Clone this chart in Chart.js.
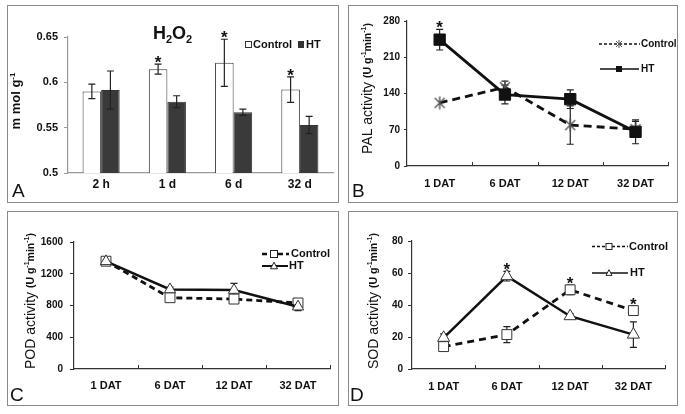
<!DOCTYPE html>
<html>
<head>
<meta charset="utf-8">
<title>H2O2, PAL, POD and SOD</title>
<script src="https://cdn.jsdelivr.net/npm/chart.js@4.4.1/dist/chart.umd.min.js"></script>
<style>
  body { margin: 0; background: #fff; }
  #wrap { position: relative; width: 685px; height: 414px; overflow: hidden; background: #fff; }
  canvas, .frame { position: absolute; }
  .frame { border: 1.5px solid #8a8a8a; box-sizing: border-box; pointer-events: none; }
</style>
</head>
<body>
<div id="wrap">
  <canvas id="h2o2Chart" width="332" height="198" style="left:7px;top:5px"></canvas>
  <canvas id="palChart" width="330" height="198" style="left:348px;top:5px"></canvas>
  <canvas id="podChart" width="332" height="195" style="left:7px;top:211px"></canvas>
  <canvas id="sodChart" width="330" height="195" style="left:348px;top:211px"></canvas>
  <div class="frame" style="left:7px;top:5px;width:332px;height:198px"></div>
  <div class="frame" style="left:348px;top:5px;width:330px;height:198px"></div>
  <div class="frame" style="left:7px;top:211px;width:332px;height:195px"></div>
  <div class="frame" style="left:348px;top:211px;width:330px;height:195px"></div>
</div>
<script>
const FONT = "'Liberation Sans', Arial, sans-serif";
Chart.defaults.font.family = FONT;
Chart.defaults.color = '#111';
Chart.defaults.animation = false;

// H2O2 - BAR (A)
const h2o2Labels = ['2 h', '1 d', '6 d', '32 d'];
const h2o2Control = [0.590, 0.6145, 0.6215, 0.592];
const h2o2ControlErr = [0.008, 0.0055, 0.026, 0.014];
const h2o2HT = [0.5915, 0.5787, 0.567, 0.553];
const h2o2HTErr = [0.021, 0.0065, 0.0035, 0.0095];
const h2o2Stars = [false, true, true, true];
const h2o2Ticks = [0.5, 0.55, 0.6, 0.65];

// days after treatment (B, C, D)
const datLabels = ['1 DAT', '6 DAT', '12 DAT', '32 DAT'];

// PAL - LINE (B)
const palControl = [122, 152, 79, 71];
const palControlErr = [0, 12, 37, 15];
const palHT = [244, 138, 129, 66];
const palHTErr = [20, 18, 18, 23];
const palHTStars = [true, false, false, false];
const palTicks = [0, 70, 140, 210, 280];

// POD - LINE (C)
const podControl = [1358, 898, 881, 832];
const podControlErr = [25, 30, 30, 35];
const podHT = [1356, 1002, 994, 785];
const podHTErr = [20, 30, 84, 50];
const podTicks = [0, 400, 800, 1200, 1600];

// SOD - LINE (D)
const sodControl = [14, 21.5, 49.5, 36.5];
const sodControlErr = [2, 5, 3, 3];
const sodControlStars = [false, false, true, true];
const sodHT = [19.5, 58, 33, 21.5];
const sodHTErr = [2.5, 3, 1.5, 8];
const sodHTStars = [false, true, false, false];
const sodTicks = [0, 20, 40, 60, 80];


// error bars and significance stars, drawn on the chart's own y scale
const errorBars = {
    id: 'errorBars',
    beforeDatasetsDraw(chart) {
        if (chart.config.type !== 'bar') drawErrors(chart);
    },
    afterDatasetsDraw(chart) {
        if (chart.config.type === 'bar') drawErrors(chart);
        drawStars(chart);
    }
};

function drawErrors(chart) {
    const ctx = chart.ctx, y = chart.scales.y;
    chart.data.datasets.forEach((ds, i) => {
        if (!ds.err) return;
        chart.getDatasetMeta(i).data.forEach((pt, j) => {
            const e = ds.err[j];
            if (!e) return;
            const top = y.getPixelForValue(ds.data[j] + e);
            const bot = y.getPixelForValue(ds.data[j] - e);
            ctx.save();
            ctx.strokeStyle = '#222';
            ctx.lineWidth = 1.2;
            ctx.beginPath();
            ctx.moveTo(pt.x, top); ctx.lineTo(pt.x, bot);
            ctx.moveTo(pt.x - 3.5, top); ctx.lineTo(pt.x + 3.5, top);
            ctx.moveTo(pt.x - 3.5, bot); ctx.lineTo(pt.x + 3.5, bot);
            ctx.stroke();
            ctx.restore();
        });
    });
}

function drawStars(chart) {
    const ctx = chart.ctx, y = chart.scales.y;
    chart.data.datasets.forEach((ds, i) => {
        if (!ds.stars) return;
        chart.getDatasetMeta(i).data.forEach((pt, j) => {
            if (!ds.stars[j]) return;
            const top = y.getPixelForValue(ds.data[j] + (ds.err ? ds.err[j] : 0));
            ctx.save();
            ctx.fillStyle = '#111';
            ctx.font = 'bold 17px ' + FONT;
            ctx.textAlign = 'center';
            ctx.textBaseline = 'alphabetic';
            ctx.fillText('*', pt.x, top + 4);
            ctx.restore();
        });
    });
}

// text made of pieces (sub/superscripts), font like 'bold 12px', dy shifts the piece
function partsWidth(ctx, parts) {
    let w = 0;
    parts.forEach(p => { ctx.font = p[1] + ' ' + FONT; w += ctx.measureText(p[0]).width; });
    return w;
}
function drawParts(ctx, parts, x, y) {
    ctx.textAlign = 'left';
    parts.forEach(p => {
        ctx.font = p[1] + ' ' + FONT;
        ctx.fillText(p[0], x, y + (p[2] || 0));
        x += ctx.measureText(p[0]).width;
    });
}
function yTitle(ctx, parts, cx, cy) {
    ctx.save();
    ctx.translate(cx, cy);
    ctx.rotate(-Math.PI / 2);
    ctx.fillStyle = '#111';
    ctx.textBaseline = 'middle';
    drawParts(ctx, parts, -partsWidth(ctx, parts) / 2, 0);
    ctx.restore();
}
function unitsTitle(name, big, small) {
    return [[name + ' ', big + 'px'], ['(U g', 'bold ' + small + 'px'], ['-1', 'bold 7px', -4],
            ['min', 'bold ' + small + 'px'], ['-1', 'bold 7px', -4], [')', 'bold ' + small + 'px']];
}

function marker(ctx, kind, x, y, s) {
    ctx.save();
    ctx.lineWidth = 1;
    ctx.strokeStyle = '#222';
    ctx.fillStyle = '#fff';
    if (kind === 'fillRect') {
        ctx.fillStyle = '#111';
        ctx.fillRect(x - s / 2, y - s / 2, s, s);
    } else if (kind === 'openRect') {
        ctx.fillRect(x - s / 2, y - s / 2, s, s);
        ctx.strokeRect(x - s / 2, y - s / 2, s, s);
    } else if (kind === 'openTri') {
        ctx.beginPath();
        ctx.moveTo(x, y - s * 0.55);
        ctx.lineTo(x + s / 2, y + s * 0.4);
        ctx.lineTo(x - s / 2, y + s * 0.4);
        ctx.closePath();
        ctx.fill(); ctx.stroke();
    } else if (kind === 'asterisk') {
        ctx.strokeStyle = '#555';
        ctx.beginPath();
        ctx.moveTo(x - s / 2, y - s / 2); ctx.lineTo(x + s / 2, y + s / 2);
        ctx.moveTo(x + s / 2, y - s / 2); ctx.lineTo(x - s / 2, y + s / 2);
        ctx.moveTo(x, y - s / 2 - 1); ctx.lineTo(x, y + s / 2 + 1);
        ctx.stroke();
    }
    ctx.restore();
}

function legendRow(ctx, o) {
    ctx.save();
    ctx.strokeStyle = '#111';
    ctx.lineWidth = o.lw;
    ctx.setLineDash(o.dash || []);
    ctx.beginPath(); ctx.moveTo(o.x0, o.y); ctx.lineTo(o.x1, o.y); ctx.stroke();
    ctx.setLineDash([]);
    marker(ctx, o.marker, o.mx, o.y, o.ms);
    ctx.fillStyle = '#111';
    ctx.font = o.font + ' ' + FONT;
    ctx.textBaseline = 'middle';
    ctx.textAlign = 'left';
    ctx.fillText(o.text, o.tx, o.y);
    ctx.restore();
}

function letter(ctx, t, x, y) {
    ctx.fillStyle = '#111';
    ctx.font = '19px ' + FONT;
    ctx.textAlign = 'left';
    ctx.textBaseline = 'alphabetic';
    ctx.fillText(t, x, y);
}

// per panel drawing; fn works in page coordinates (ox, oy = canvas position)
function decor(ox, oy, fn, insideTicks) {
    return {
        id: 'decor',
        afterDraw(chart) {
            const ctx = chart.ctx;
            if (insideTicks) {
                const x = chart.scales.x, b = chart.chartArea.bottom;
                ctx.save();
                ctx.strokeStyle = '#333';
                ctx.lineWidth = 1;
                for (let k = 1; k <= chart.data.labels.length; k++) {
                    const px = Math.round(x.getPixelForValue(k - 0.5)) + 0.5;
                    ctx.beginPath(); ctx.moveTo(px, b); ctx.lineTo(px, b - insideTicks); ctx.stroke();
                }
                ctx.restore();
            }
            ctx.save();
            ctx.translate(-ox, -oy);
            fn(ctx);
            ctx.restore();
        }
    };
}

function yAxis(ticks, width, tickLen, pad, size, color, fmt) {
    return {
        min: ticks[0],
        max: ticks[ticks.length - 1],
        ticks: { stepSize: ticks[1] - ticks[0], padding: pad, color: '#111',
                 font: { size: size, weight: 'bold' }, callback: fmt || (v => v) },
        grid: { drawOnChartArea: false, tickLength: tickLen, color: color },
        border: { color: color, width: 1.2 },
        afterFit: s => { s.width = width; }
    };
}
function xAxis(height, pad, size, color, offset) {
    return {
        offset: offset,
        grid: { display: false, offset: offset },
        border: { color: color, width: 1.2 },
        ticks: { padding: pad, color: '#111', font: { size: size, weight: 'bold' }, maxRotation: 0, autoSkip: false },
        afterFit: s => { s.height = height; }
    };
}

// A - H2O2 BAR
new Chart(document.getElementById('h2o2Chart'), {
    type: 'bar',
    data: {
        labels: h2o2Labels,
        datasets: [
            { label: 'Control', data: h2o2Control, err: h2o2ControlErr, stars: h2o2Stars,
              backgroundColor: '#fff', borderColor: '#333', borderWidth: 1,
              categoryPercentage: 0.56, barPercentage: 1 },
            { label: 'HT', data: h2o2HT, err: h2o2HTErr,
              backgroundColor: '#3a3a3a', borderColor: '#333', borderWidth: 1,
              categoryPercentage: 0.56, barPercentage: 1 }
        ]
    },
    options: {
        responsive: false,
        layout: { padding: { left: 0, top: 32, right: 6, bottom: 0 } },
        plugins: { legend: { display: false }, tooltip: { enabled: false } },
        scales: {
            x: xAxis(30, -4, 12, '#999', true),
            y: yAxis(h2o2Ticks, 61, 4, 6, 11, '#999', v => String(+v.toFixed(2)))
        }
    },
    plugins: [errorBars, decor(7, 5, ctx => {
        ctx.fillStyle = '#111';
        ctx.textBaseline = 'alphabetic';
        drawParts(ctx, [['H', 'bold 18px'], ['2', 'bold 11px', 4], ['O', 'bold 18px'], ['2', 'bold 11px', 4]], 153, 39);
        ctx.lineWidth = 1;
        ctx.strokeStyle = '#333';
        ctx.fillStyle = '#fff';
        ctx.fillRect(245.5, 41.5, 6, 6);
        ctx.strokeRect(245.5, 41.5, 6, 6);
        ctx.fillStyle = '#333';
        ctx.fillRect(298, 41, 6, 7);
        ctx.fillStyle = '#111';
        ctx.font = 'bold 11px ' + FONT;
        ctx.textBaseline = 'middle';
        ctx.fillText('Control', 253, 45);
        ctx.fillText('HT', 306, 45);
        yTitle(ctx, [['m mol g', 'bold 13px'], ['-1', 'bold 8px', -4]], 16.5, 101);
        letter(ctx, 'A', 12, 197);
    })]
});

// small asterisk-like marker for PAL control
const palMark = document.createElement('canvas');
palMark.width = 14; palMark.height = 14;
(function () {
    const c = palMark.getContext('2d');
    c.strokeStyle = '#555';
    c.lineWidth = 1.4;
    c.beginPath();
    c.moveTo(2, 2); c.lineTo(12, 12);
    c.moveTo(12, 2); c.lineTo(2, 12);
    c.moveTo(7, 0.5); c.lineTo(7, 13.5);
    c.stroke();
})();

// B - PAL LINE
new Chart(document.getElementById('palChart'), {
    type: 'line',
    data: {
        labels: datLabels,
        datasets: [
            { label: 'HT', data: palHT, err: palHTErr, stars: palHTStars,
              borderColor: '#111', borderWidth: 2.8, tension: 0, fill: false,
              pointStyle: 'rect', pointRadius: 8, pointBackgroundColor: '#111',
              pointBorderColor: '#111', pointBorderWidth: 1 },
            { label: 'Control', data: palControl, err: palControlErr,
              borderColor: '#111', borderWidth: 2.8, borderDash: [8, 5], tension: 0, fill: false,
              pointStyle: palMark, pointRadius: 7 }
        ]
    },
    options: {
        responsive: false,
        layout: { padding: { left: 0, top: 16, right: 8, bottom: 0 } },
        plugins: { legend: { display: false }, tooltip: { enabled: false } },
        scales: {
            x: xAxis(37, 3, 11, '#333', true),
            y: yAxis(palTicks, 59, 3, 4, 10, '#333')
        }
    },
    plugins: [errorBars, decor(348, 5, ctx => {
        legendRow(ctx, { y: 44, x0: 599, x1: 640, lw: 1.3, dash: [3, 2], marker: 'asterisk',
                         mx: 619, ms: 6, text: 'Control', tx: 641, font: 'bold 10px' });
        legendRow(ctx, { y: 69, x0: 600, x1: 639, lw: 1.5, marker: 'fillRect',
                         mx: 619, ms: 6, text: 'HT', tx: 641, font: 'bold 10px' });
        yTitle(ctx, unitsTitle('PAL activity', 14, 10.5), 368, 88.5);
        letter(ctx, 'B', 352, 197);
    }, 4)]
});

// C - POD LINE
new Chart(document.getElementById('podChart'), {
    type: 'line',
    data: {
        labels: datLabels,
        datasets: [
            { label: 'HT', data: podHT, err: podHTErr,
              borderColor: '#111', borderWidth: 2.5, tension: 0, fill: false,
              pointStyle: 'triangle', pointRadius: 6.5, pointBackgroundColor: '#fff',
              pointBorderColor: '#333', pointBorderWidth: 1 },
            { label: 'Control', data: podControl, err: podControlErr,
              borderColor: '#111', borderWidth: 2.8, borderDash: [6, 4], tension: 0, fill: false,
              pointStyle: 'rect', pointRadius: 7, pointBackgroundColor: '#fff',
              pointBorderColor: '#333', pointBorderWidth: 1 }
        ]
    },
    options: {
        responsive: false,
        layout: { padding: { left: 0, top: 31, right: 9, bottom: 0 } },
        plugins: { legend: { display: false }, tooltip: { enabled: false } },
        scales: {
            x: xAxis(37, 2, 11, '#333', true),
            y: yAxis(podTicks, 67, 4, 7, 10, '#333')
        }
    },
    plugins: [errorBars, decor(7, 211, ctx => {
        legendRow(ctx, { y: 254, x0: 262, x1: 289, lw: 2.5, dash: [5, 3], marker: 'openRect',
                         mx: 274, ms: 7, text: 'Control', tx: 291, font: 'bold 11px' });
        legendRow(ctx, { y: 266, x0: 262, x1: 288, lw: 2, marker: 'openTri',
                         mx: 274, ms: 7, text: 'HT', tx: 289, font: 'bold 11px' });
        yTitle(ctx, unitsTitle('POD activity', 14, 10.5), 31, 301);
        letter(ctx, 'C', 10, 401);
    }, 4)]
});

// D - SOD LINE
new Chart(document.getElementById('sodChart'), {
    type: 'line',
    data: {
        labels: datLabels,
        datasets: [
            { label: 'HT', data: sodHT, err: sodHTErr, stars: sodHTStars,
              borderColor: '#111', borderWidth: 2.5, tension: 0, fill: false,
              pointStyle: 'triangle', pointRadius: 7, pointBackgroundColor: '#fff',
              pointBorderColor: '#333', pointBorderWidth: 1 },
            { label: 'Control', data: sodControl, err: sodControlErr, stars: sodControlStars,
              borderColor: '#111', borderWidth: 2.8, borderDash: [7, 5], tension: 0, fill: false,
              pointStyle: 'rect', pointRadius: 7, pointBackgroundColor: '#fff',
              pointBorderColor: '#333', pointBorderWidth: 1 }
        ]
    },
    options: {
        responsive: false,
        layout: { padding: { left: 0, top: 30, right: 13, bottom: 0 } },
        plugins: { legend: { display: false }, tooltip: { enabled: false } },
        scales: {
            x: xAxis(37, 3, 11, '#333', true),
            y: yAxis(sodTicks, 64, 4, 5, 10, '#333')
        }
    },
    plugins: [errorBars, decor(348, 211, ctx => {
        legendRow(ctx, { y: 246.5, x0: 592, x1: 628, lw: 1.3, dash: [3, 2], marker: 'openRect',
                         mx: 609, ms: 6, text: 'Control', tx: 629, font: 'bold 11px' });
        legendRow(ctx, { y: 273, x0: 592, x1: 628, lw: 1.5, marker: 'openTri',
                         mx: 609, ms: 6, text: 'HT', tx: 630, font: 'bold 11px' });
        yTitle(ctx, unitsTitle('SOD activity', 14, 10.5), 374, 301);
        letter(ctx, 'D', 350, 401);
    }, 4)]
});
</script>
</body>
</html>
